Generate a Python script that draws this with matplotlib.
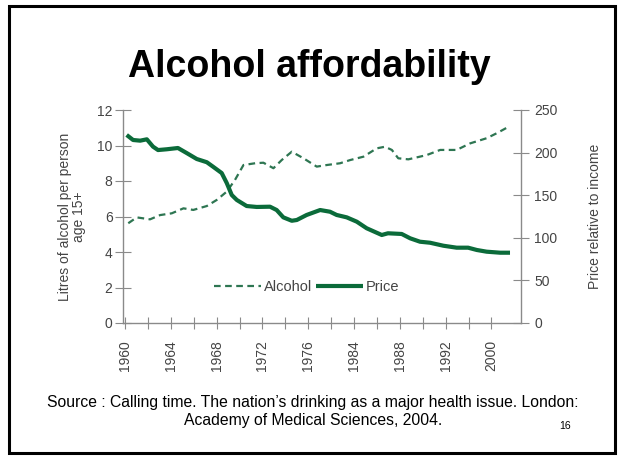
import numpy as np
import matplotlib.pyplot as plt
from matplotlib.patches import Rectangle

plt.rcParams['font.family'] = ['Liberation Sans', 'DejaVu Sans']

# Posiciones en unidades de marca del eje x (una marca cada ~2 años)
alcohol_pos = [0.14, 0.51, 1.09, 1.53, 2.04, 2.55, 2.98, 3.57, 4.00, 4.44, 4.80, 5.17,
               5.68, 6.04, 6.48, 6.84, 7.28, 7.79, 8.37, 8.81, 9.39, 9.83, 10.41,
               10.99, 11.35, 11.65, 11.93, 12.37, 13.17, 13.76, 14.48, 15.07, 15.79,
               16.23, 16.81]
alcohol = [5.62, 5.95, 5.84, 6.08, 6.18, 6.46, 6.37, 6.59, 6.93, 7.40, 8.06, 8.90,
           9.00, 9.03, 8.72, 9.18, 9.65, 9.28, 8.81, 8.90, 9.00, 9.18, 9.37,
           9.84, 9.93, 9.75, 9.28, 9.22, 9.46, 9.75, 9.75, 10.12, 10.41,
           10.69, 11.10]

price_pos = [0.07, 0.35, 0.66, 0.95, 1.22, 1.44, 1.82, 2.31, 2.69, 3.13, 3.57, 3.84,
             4.22, 4.44, 4.66, 4.88, 5.31, 5.75, 6.33, 6.62, 6.91, 7.28, 7.50,
             7.93, 8.52, 8.95, 9.24, 9.68, 10.12, 10.55, 11.21, 11.48, 12.08,
             12.45, 12.88, 13.32, 13.90, 14.48, 14.98, 15.36, 15.79, 16.38, 16.81]
price = [220.7, 214.8, 214.0, 215.6, 207.0, 203.0, 203.9, 205.4, 199.5, 192.5, 188.7,
         183.5, 176.0, 164.3, 150.2, 144.4, 137.3, 136.2, 136.5, 132.6, 124.0, 120.0,
         120.9, 126.8, 132.6, 130.6, 126.8, 124.0, 118.9, 111.2, 103.3, 105.3, 104.5,
         99.4, 95.4, 94.2, 90.7, 88.4, 88.4, 85.7, 83.7, 82.5, 82.5]

year_labels = ["1960", "1964", "1968", "1972", "1976", "1984", "1988", "1992", "2000"]

green = "#0b6b3a"
grey = "#8a8a8a"
text_grey = "#444444"

fig = plt.figure(figsize=(6.19, 4.59), dpi=100)

# Marco de la diapositiva
fig.patches.append(Rectangle((9 / 619, 6 / 459), 606 / 619, 447 / 459,
                             transform=fig.transFigure, fill=False,
                             edgecolor="black", linewidth=2.2))

fig.text(0.5, 1 - 67 / 459, "Alcohol affordability", ha="center", va="center",
         fontsize=27, fontweight="bold")

ax = fig.add_axes([123 / 619, 1 - 323 / 459, 398 / 619, 213 / 459])
ax2 = ax.twinx()

l1, = ax.plot(alcohol_pos, alcohol, color="#2e7652", linewidth=1.6,
              dashes=(3, 2), label="Alcohol")
l2, = ax2.plot(price_pos, price, color=green, linewidth=3.0, label="Price",
               solid_capstyle="butt")

ax.set_xlim(-0.09, 17.29)
ax.set_ylim(0, 12)
ax2.set_ylim(0, 250)
ax.set_yticks(range(0, 13, 2))
ax2.set_yticks(range(0, 251, 50))
ax.set_xticks(range(0, 17))
ax.set_xticklabels([year_labels[i // 2] if i % 2 == 0 else "" for i in range(17)],
                   rotation=90)

for a in (ax, ax2):
    for s in a.spines.values():
        s.set_color(grey)
        s.set_linewidth(1.0)
    a.spines["top"].set_visible(False)
ax.spines["right"].set_visible(False)
ax2.spines["left"].set_visible(False)
ax2.spines["bottom"].set_visible(False)

ax.tick_params(axis="y", direction="inout", length=11, color=grey,
               labelcolor=text_grey, labelsize=10, pad=2)
ax.tick_params(axis="x", direction="inout", length=9, color=grey,
               labelcolor=text_grey, labelsize=10, pad=8)
ax2.tick_params(axis="y", direction="inout", length=11, color=grey,
                labelcolor=text_grey, labelsize=10, pad=4)

ax.set_ylabel("Litres of alcohol per person\nage 15+", color=text_grey,
              fontsize=10, labelpad=8, linespacing=1.0)
ax2.set_ylabel("Price relative to income", color=text_grey, fontsize=10,
               labelpad=22)

ax.legend(handles=[l1, l2], loc="center", bbox_to_anchor=(0.462, 0.169),
          ncol=2, frameon=False, fontsize=10.5, handlelength=3.2,
          handletextpad=0.2, columnspacing=0.3, labelcolor=text_grey)

fig.text(0.506, 1 - 402 / 459,
         "Source : Calling time. The nation\u2019s drinking as a major health issue. London:",
         ha="center", va="center", fontsize=11.3)
fig.text(0.506, 1 - 420 / 459, "Academy of Medical Sciences, 2004.",
         ha="center", va="center", fontsize=11.3)
fig.text(565 / 619, 1 - 426 / 459, "16", ha="center", va="center", fontsize=7.5)

fig.savefig("out.png", dpi=100)
